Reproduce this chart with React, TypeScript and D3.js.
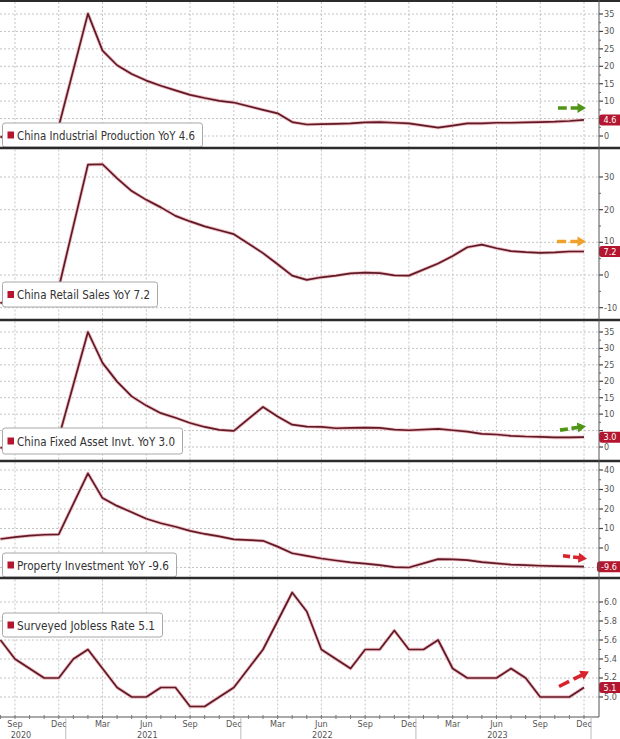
import React from 'react';
import * as d3 from 'd3';

// ---------- DATA ----------
const months = [
  '2020-08','2020-09','2020-10','2020-11','2020-12',
  '2021-01','2021-02','2021-03','2021-04','2021-05','2021-06','2021-07','2021-08','2021-09','2021-10','2021-11','2021-12',
  '2022-01','2022-02','2022-03','2022-04','2022-05','2022-06','2022-07','2022-08','2022-09','2022-10','2022-11','2022-12',
  '2023-01','2023-02','2023-03','2023-04','2023-05','2023-06','2023-07','2023-08','2023-09','2023-10','2023-11','2023-12',
];

const industrialProduction: (number | null)[] = [
  -0.4, 1.2, 1.8, 2.3, 2.8,
  null, 35.1, 24.5, 20.3, 17.8, 15.9, 14.4, 13.1, 11.8, 10.9, 10.1, 9.6,
  null, 7.5, 6.5, 4.0, 3.3, 3.4, 3.5, 3.6, 3.9, 4.0, 3.8, 3.6,
  null, 2.4, 3.0, 3.6, 3.6, 3.8, 3.8, 3.9, 4.0, 4.1, 4.3, 4.6,
];

const retailSales: (number | null)[] = [
  -8.6, -7.2, -5.9, -4.8, -3.9,
  null, 33.8, 33.9, 29.6, 25.7, 23.0, 20.7, 18.1, 16.4, 14.9, 13.7, 12.5,
  null, 6.7, 3.3, -0.2, -1.5, -0.7, -0.2, 0.5, 0.7, 0.6, -0.1, -0.2,
  null, 3.5, 5.8, 8.5, 9.3, 8.2, 7.3, 7.0, 6.8, 6.9, 7.2, 7.2,
];

const fixedAssetInvt: (number | null)[] = [
  -0.3, 0.8, 1.8, 2.6, 2.9,
  null, 35.0, 25.6, 19.9, 15.4, 12.6, 10.3, 8.9, 7.3, 6.1, 5.2, 4.9,
  null, 12.2, 9.3, 6.8, 6.2, 6.1, 5.7, 5.8, 5.9, 5.8, 5.3, 5.1,
  null, 5.5, 5.1, 4.7, 4.0, 3.8, 3.4, 3.2, 3.1, 2.9, 2.9, 3.0,
];

const propertyInvestment: (number | null)[] = [
  4.6, 5.6, 6.3, 6.8, 7.0,
  null, 38.3, 25.6, 21.6, 18.3, 15.0, 12.7, 10.9, 8.8, 7.2, 6.0, 4.4,
  null, 3.7, 0.7, -2.7, -4.0, -5.4, -6.4, -7.4, -8.0, -8.8, -9.8, -10.0,
  null, -5.7, -5.8, -6.2, -7.2, -7.9, -8.5, -8.8, -9.1, -9.3, -9.4, -9.6,
];

const joblessRate: (number | null)[] = [
  5.6, 5.4, 5.3, 5.2, 5.2,
  5.4, 5.5, 5.3, 5.1, 5.0, 5.0, 5.1, 5.1, 4.9, 4.9, 5.0, 5.1,
  5.3, 5.5, 5.8, 6.1, 5.9, 5.5, 5.4, 5.3, 5.5, 5.5, 5.7, 5.5,
  5.5, 5.6, 5.3, 5.2, 5.2, 5.2, 5.3, 5.2, 5.0, 5.0, 5.0, 5.1,
];

const seriesNames = [
  'China Industrial Production YoY',
  'China Retail Sales YoY',
  'China Fixed Asset Invt. YoY',
  'Property Investment YoY',
  'Surveyed Jobless Rate',
];
const seriesValues = [industrialProduction, retailSales, fixedAssetInvt, propertyInvestment, joblessRate];

const ticksIP = [0, 5, 10, 15, 20, 25, 30, 35];
const ticksRetail = [-10, 0, 10, 20, 30];
const ticksFAI = [0, 5, 10, 15, 20, 25, 30, 35];
const ticksProperty = [0, 10, 20, 30, 40];
const ticksJobless = [5.0, 5.2, 5.4, 5.6, 5.8, 6.0];
const tickSets = [ticksIP, ticksRetail, ticksFAI, ticksProperty, ticksJobless];

const monthAbbr = ['Jan','Feb','Mar','Apr','May','Jun','Jul','Aug','Sep','Oct','Nov','Dec'];

// ---------- LAYOUT / STYLE ----------
const W = 620;
const H = 739;
const AXIS_X = 599;
const X_AXIS_Y = 717;
const xScale = d3.scaleLinear().domain([0, months.length - 1]).range([0.4, 584]);

type PanelLayout = {
  top: number; bottom: number;
  ref: [number, number]; refPx: [number, number];
  fmt: (v: number) => string;
  legend: { x: number; y: number; w: number; h: number };
  arrow: { dx0: number; dy0: number; dx1: number; dy1: number; color: string };
  badgeW: number;
  gridExtra?: number[];
};

const layouts: PanelLayout[] = [
  { top: 2, bottom: 147, ref: [0, 35], refPx: [136, 14], fmt: d => String(d),
    legend: { x: 2.5, y: 123, w: 200, h: 24 },
    arrow: { dx0: -26, dy0: -12, dx1: 2, dy1: -12, color: '#4f9616' }, badgeW: 21 },
  { top: 149.5, bottom: 319, ref: [0, 30], refPx: [275, 177], fmt: d => String(d),
    legend: { x: 2.5, y: 282, w: 155, h: 25 },
    arrow: { dx0: -27, dy0: -10, dx1: 2, dy1: -10, color: '#f0a02c' }, badgeW: 21 },
  { top: 321.5, bottom: 460, ref: [0, 35], refPx: [447, 332], fmt: d => String(d),
    legend: { x: 2.5, y: 428, w: 180, h: 26 },
    arrow: { dx0: -24, dy0: -7, dx1: 2, dy1: -11, color: '#4f9616' }, badgeW: 21 },
  { top: 462.5, bottom: 577, ref: [0, 40], refPx: [548, 470], fmt: d => String(d),
    legend: { x: 2.5, y: 553, w: 174, h: 24 },
    arrow: { dx0: -21, dy0: -11, dx1: 3, dy1: -8, color: '#d8232c' }, badgeW: 23, gridExtra: [-10] },
  { top: 579.5, bottom: 717, ref: [5.0, 6.0], refPx: [697, 602], fmt: d => d.toFixed(1),
    legend: { x: 2.5, y: 613, w: 160, h: 24 },
    arrow: { dx0: -25, dy0: -1, dx1: 5, dy1: -16, color: '#d8232c' }, badgeW: 21 },
];

const separators = [1, 148, 320, 461, 578];
const LINE_COLOR = '#5e1a27';
const HALO_COLOR = '#f1bcc2';
const BADGE_COLOR = '#b3162e';
const GRID_COLOR = '#c4c4c4';
const TEXT_FONT = '"DejaVu Sans Condensed", "Liberation Sans Narrow", "DejaVu Sans", sans-serif';
const BADGE_H = 11;

function Arrow({ x0, y0, x1, y1, color }: { x0: number; y0: number; x1: number; y1: number; color: string }) {
  const L = Math.hypot(x1 - x0, y1 - y0);
  const ux = (x1 - x0) / L, uy = (y1 - y0) / L;
  const nx = -uy, ny = ux;
  const headLen = 8.5, headW = 10;
  const bx = x1 - ux * headLen, by = y1 - uy * headLen;
  const shaftLen = L - headLen;
  const dash = shaftLen * 0.45;
  const gap = shaftLen * 0.2;
  return (
    <g>
      <line x1={x0} y1={y0} x2={bx + ux * 1} y2={by + uy * 1} stroke={color} strokeWidth={3.6}
        strokeDasharray={`${dash} ${gap} ${shaftLen}`} />
      <polygon points={`${x1},${y1} ${bx + nx * headW / 2},${by + ny * headW / 2} ${bx - nx * headW / 2},${by - ny * headW / 2}`}
        fill={color} />
    </g>
  );
}

export default function App() {
  const quarterIdx = months.map((m, i) => ({ m, i })).filter(({ m }) => [3, 6, 9, 12].includes(+m.slice(5)));
  return (
    <svg width={W} height={H} viewBox={`0 0 ${W} ${H}`}
      style={{ position: 'absolute', left: 0, top: 0, background: '#fff', fontFamily: TEXT_FONT }}>
      <rect x={0} y={0} width={W} height={H} fill="#ffffff" />
      <defs>
        {layouts.map((p, k) => (
          <clipPath id={`clip${k}`} key={k}>
            <rect x={0} y={p.top} width={AXIS_X} height={p.bottom - p.top} />
          </clipPath>
        ))}
      </defs>

      {layouts.map((p, k) => {
        const y = d3.scaleLinear().domain(p.ref).range(p.refPx);
        const vals = seriesValues[k];
        const pts = vals.map((v, i) => ({ i, v })).filter(d => d.v !== null) as { i: number; v: number }[];
        const line = d3.line<{ i: number; v: number }>().x(d => xScale(d.i)).y(d => y(d.v));
        const pathD = line(pts) || '';
        const last = pts[pts.length - 1];
        const lx = xScale(last.i), ly = y(last.v);
        const ticks = tickSets[k];
        const grid = [...ticks, ...(p.gridExtra || [])];
        const lastLabel = last.v.toFixed(1);
        const minor = d3.range(ticks.length - 1).map(j => (ticks[j] + ticks[j + 1]) / 2);
        // tick labels hidden behind the value badge (as in the reference) are not drawn
        const labelTicks = ticks.filter(t => Math.abs(y(t) - ly) > 8);
        return (
          <g key={k}>
            {/* grid */}
            {grid.map(t => (
              <line key={`h${t}`} x1={0} x2={AXIS_X} y1={y(t)} y2={y(t)} stroke={GRID_COLOR}
                strokeWidth={1} strokeDasharray="2 2" />
            ))}
            {quarterIdx.map(({ i }) => (
              <line key={`v${i}`} x1={xScale(i)} x2={xScale(i)} y1={p.top} y2={p.bottom} stroke={GRID_COLOR}
                strokeWidth={1} strokeDasharray="2 2" />
            ))}
            {/* series */}
            <g clipPath={`url(#clip${k})`}>
              <path d={pathD} fill="none" stroke={HALO_COLOR} strokeWidth={3.4} strokeLinejoin="round" />
              <path d={pathD} fill="none" stroke={LINE_COLOR} strokeWidth={1.7} strokeLinejoin="round" />
            </g>
            {/* right axis ticks */}
            {ticks.map(t => (
              <line key={`tk${t}`} x1={AXIS_X} x2={AXIS_X + 4} y1={y(t)} y2={y(t)} stroke="#444" strokeWidth={1.2} />
            ))}
            {labelTicks.map(t => (
              <text key={`t${t}`} x={AXIS_X + 5} y={y(t) - (Math.abs(y(t) - ly) < 12 && y(t) < ly ? 1 : 0)} dy="0.33em"
                fontSize={9} fill="#555"
                fontFamily='"DejaVu Sans Condensed", "DejaVu Sans", sans-serif'>{p.fmt(t)}</text>
            ))}
            {minor.map(t => (
              <line key={`m${t}`} x1={AXIS_X} x2={AXIS_X + 2} y1={y(t)} y2={y(t)} stroke="#666" strokeWidth={1} />
            ))}
            {/* annotation arrow */}
            <Arrow x0={lx + p.arrow.dx0} y0={ly + p.arrow.dy0} x1={lx + p.arrow.dx1} y1={ly + p.arrow.dy1}
              color={p.arrow.color} />
            {/* last value badge */}
            <rect x={W - p.badgeW} y={ly - BADGE_H / 2} width={p.badgeW + 3} height={BADGE_H} rx={3} fill={BADGE_COLOR} />
            <text x={W - p.badgeW / 2 + 0.5} y={ly} dy="0.35em" textAnchor="middle" fontSize={9} fill="#fff"
              fontFamily='"DejaVu Sans Condensed", "DejaVu Sans", sans-serif'>{lastLabel}</text>
            {/* legend */}
            <rect x={p.legend.x} y={p.legend.y} width={p.legend.w} height={p.legend.h} rx={2.5}
              fill="#fff" stroke="#a8a8a8" strokeWidth={1} />
            <rect x={p.legend.x + 5} y={p.legend.y + p.legend.h / 2 - 3.5} width={6.5} height={7} fill={BADGE_COLOR} />
            <text x={p.legend.x + 14.5} y={p.legend.y + p.legend.h / 2} dy="0.37em" fontSize={13} fill="#333"
              textLength={p.legend.w - 22} lengthAdjust="spacingAndGlyphs">
              {`${seriesNames[k]} ${lastLabel}`}
            </text>
          </g>
        );
      })}

      {/* separators */}
      {separators.map(s => (
        <line key={`s${s}`} x1={0} x2={W} y1={s} y2={s} stroke="#2b2b2b" strokeWidth={s === 1 ? 2 : 2.6} />
      ))}
      {/* right axis line */}
      <line x1={AXIS_X} x2={AXIS_X} y1={0} y2={X_AXIS_Y} stroke="#555" strokeWidth={1} />

      {/* bottom axis */}
      <line x1={0} x2={AXIS_X} y1={X_AXIS_Y} y2={X_AXIS_Y} stroke="#555" strokeWidth={1} />
      {months.map((m, i) => (
        <line key={`mt${i}`} x1={xScale(i)} x2={xScale(i)} y1={X_AXIS_Y - 2} y2={X_AXIS_Y + 2} stroke="#777" strokeWidth={1} />
      ))}
      {quarterIdx.map(({ m, i }) => (
        <text key={`ml${i}`} x={xScale(i)} y={727} textAnchor="middle" fontSize={9} fill="#555"
          fontFamily='"DejaVu Sans Condensed", "DejaVu Sans", sans-serif'>
          {monthAbbr[+m.slice(5) - 1]}
        </text>
      ))}
      {months.map((m, i) => (+m.slice(5) === 12 ? (
        <line key={`yb${i}`} x1={xScale(i) + 7} x2={xScale(i) + 7} y1={X_AXIS_Y} y2={H} stroke="#bbb" strokeWidth={1} />
      ) : null))}
      {months.map((m, i) => {
        const mo = +m.slice(5);
        const yr = m.slice(0, 4);
        const show = (yr === '2020' && mo === 9) || (yr !== '2020' && mo === 6);
        return show ? (
          <text key={`yl${i}`} x={xScale(i) + (yr === '2020' ? 6 : 1)} y={737.5} textAnchor="middle" fontSize={9} fill="#555"
            fontFamily='"DejaVu Sans Condensed", "DejaVu Sans", sans-serif'>{yr}</text>
        ) : null;
      })}
    </svg>
  );
}
